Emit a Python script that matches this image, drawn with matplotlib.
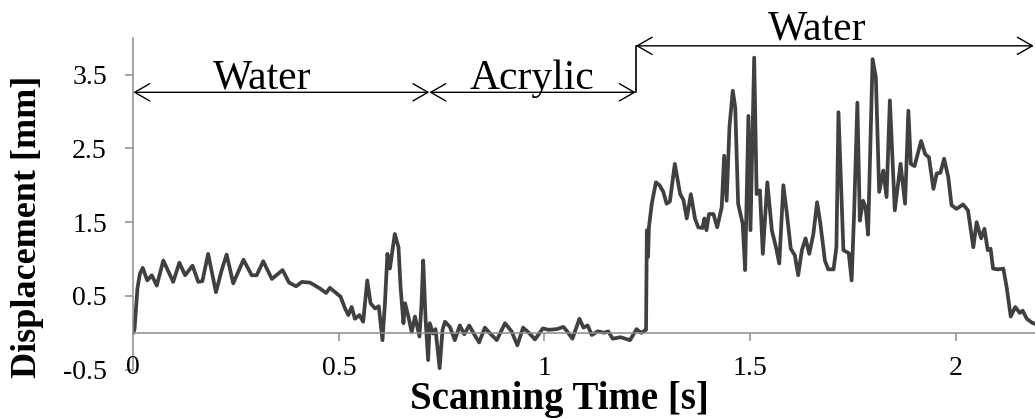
import matplotlib
matplotlib.use("Agg")
import matplotlib.pyplot as plt
import numpy as np

plt.rcParams['font.family'] = ['Liberation Serif', 'DejaVu Serif']

# scanning time [s] and displacement [mm]
time_s = [
    0.000, 0.003, 0.010, 0.016, 0.023, 0.034, 0.045, 0.057, 0.073, 0.088,
    0.097, 0.112, 0.126, 0.144, 0.158, 0.168, 0.182, 0.201, 0.215, 0.227,
    0.243, 0.268, 0.288, 0.300, 0.316, 0.337, 0.363, 0.379, 0.396, 0.410,
    0.430, 0.454, 0.469, 0.478, 0.493, 0.504, 0.515, 0.523, 0.531, 0.539,
    0.550, 0.559, 0.569, 0.577, 0.588, 0.597, 0.606, 0.612, 0.618, 0.624,
    0.636, 0.645, 0.650, 0.657, 0.661, 0.669, 0.677, 0.685, 0.696, 0.701,
    0.705, 0.711, 0.717, 0.721, 0.729, 0.735, 0.745, 0.752, 0.758, 0.770,
    0.782, 0.794, 0.805, 0.817, 0.829, 0.841, 0.855, 0.868, 0.884, 0.904,
    0.920, 0.934, 0.948, 0.962, 0.977, 0.996, 1.010, 1.030, 1.046, 1.055,
    1.068, 1.085, 1.095, 1.105, 1.115, 1.130, 1.145, 1.155, 1.166, 1.185,
    1.208, 1.224, 1.235, 1.247, 1.249, 1.252, 1.254, 1.261, 1.271, 1.280,
    1.289, 1.297, 1.305, 1.317, 1.330, 1.338, 1.346, 1.356, 1.366, 1.374,
    1.384, 1.389, 1.394, 1.400, 1.411, 1.420, 1.431, 1.437, 1.443, 1.450,
    1.458, 1.464, 1.471, 1.482, 1.488, 1.496, 1.501, 1.510, 1.516, 1.524,
    1.531, 1.542, 1.553, 1.563, 1.571, 1.581, 1.589, 1.599, 1.609, 1.617,
    1.626, 1.635, 1.644, 1.654, 1.663, 1.671, 1.682, 1.690, 1.703, 1.710,
    1.715, 1.727, 1.740, 1.747, 1.753, 1.761, 1.767, 1.775, 1.781, 1.787,
    1.798, 1.806, 1.814, 1.824, 1.832, 1.840, 1.852, 1.866, 1.877, 1.885,
    1.891, 1.900, 1.916, 1.926, 1.935, 1.946, 1.954, 1.963, 1.972, 1.982,
    1.990, 2.002, 2.018, 2.030, 2.043, 2.051, 2.062, 2.070, 2.078, 2.085,
    2.091, 2.103, 2.116, 2.124, 2.134, 2.145, 2.156, 2.163, 2.173, 2.185,
    2.193,
]
displacement_mm = [
    0.00, 0.05, 0.60, 0.80, 0.88, 0.71, 0.78, 0.64, 0.98, 0.80,
    0.69, 0.95, 0.78, 0.91, 0.69, 0.70, 1.07, 0.55, 0.85, 1.06,
    0.67, 0.99, 0.78, 0.78, 0.97, 0.73, 0.85, 0.68, 0.63, 0.69,
    0.68, 0.60, 0.54, 0.61, 0.54, 0.49, 0.33, 0.24, 0.35, 0.19,
    0.24, 0.15, 0.71, 0.40, 0.33, 0.36, -0.10, 0.40, 1.07, 0.87,
    1.34, 1.16, 0.62, 0.13, 0.40, 0.22, 0.01, 0.22, -0.05, 0.40,
    0.98, 0.17, -0.37, 0.13, -0.01, 0.05, -0.48, 0.04, 0.15, 0.08,
    -0.10, 0.10, -0.02, 0.10, -0.02, -0.13, 0.07, -0.01, -0.10, 0.13,
    0.02, -0.17, 0.07, 0.00, -0.09, 0.06, 0.04, 0.05, 0.08, 0.02,
    -0.08, 0.19, 0.07, 0.10, -0.03, 0.02, 0.00, 0.02, -0.08, -0.06,
    -0.10, 0.05, 0.00, 0.04, 1.39, 1.03, 1.43, 1.75, 2.04, 2.00,
    1.91, 1.75, 1.78, 2.29, 1.88, 1.80, 1.55, 1.88, 1.55, 1.43,
    1.42, 1.55, 1.39, 1.61, 1.61, 1.43, 1.70, 2.40, 1.79, 2.80,
    3.28, 3.05, 1.75, 1.48, 0.85, 2.94, 1.39, 3.73, 1.88, 1.93,
    1.07, 2.04, 1.39, 1.16, 0.94, 2.00, 1.64, 1.14, 1.05, 0.78,
    1.12, 1.28, 1.07, 1.34, 1.77, 1.48, 0.98, 0.86, 0.86, 1.16,
    2.99, 1.12, 1.08, 0.71, 1.61, 3.12, 1.52, 1.79, 1.70, 1.33,
    3.71, 3.46, 1.91, 2.20, 1.84, 3.15, 1.66, 2.29, 1.75, 3.01,
    2.29, 2.26, 2.60, 2.42, 2.38, 1.95, 2.16, 2.17, 2.36, 2.11,
    1.73, 1.68, 1.74, 1.66, 1.16, 1.50, 1.28, 1.41, 1.12, 1.14,
    0.87, 0.86, 0.87, 0.62, 0.22, 0.35, 0.27, 0.30, 0.19, 0.14,
    0.12,
]

x_ticks = [0, 0.5, 1, 1.5, 2]
x_tick_labels = ['0', '0.5', '1', '1.5', '2']
y_ticks = [-0.5, 0.5, 1.5, 2.5, 3.5]
y_tick_labels = ['-0.5', '0.5', '1.5', '2.5', '3.5']

# region markers: (label, start, end, arrow height, text x, text y)
regions = [
    ('Water', 0.0, 0.72, 3.26, 0.314, 3.31),
    ('Acrylic', 0.72, 1.222, 3.26, 0.969, 3.31),
    ('Water', 1.222, 2.19, 3.89, 1.664, 3.98),
]

fig = plt.figure(figsize=(10.35, 4.19), dpi=100)
ax = fig.add_axes([0.1288, 0.1177, 0.8712, 0.7923])

ax.plot(time_s, displacement_mm, color='#404040', lw=2.7,
        solid_joinstyle='round', solid_capstyle='round')

ax.set_xlim(0, 2.193)
ax.set_ylim(-0.5, 4.0)

ax.spines['top'].set_visible(False)
ax.spines['right'].set_visible(False)
ax.spines['bottom'].set_position(('data', 0))
for s in ('left', 'bottom'):
    ax.spines[s].set_color('#8c8c8c')
    ax.spines[s].set_linewidth(1.1)

ax.set_xticks(x_ticks[1:])
ax.set_xticklabels(x_tick_labels[1:])
ax.set_yticks(y_ticks)
ax.set_yticklabels(y_tick_labels)
ax.tick_params(axis='x', direction='out', length=6, width=1.1, color='#8c8c8c',
               labelsize=20, pad=11)
ax.tick_params(axis='y', direction='out', length=6, width=1.1, color='#8c8c8c',
               labelsize=20, pad=13)
# the "0" label sits at the origin corner
ax.text(0, -0.47, x_tick_labels[0], fontsize=20, ha='center', va='center')

ax.set_xlabel('Scanning Time [s]', fontsize=28, fontweight='bold')
ax.xaxis.set_label_coords(0.473, -0.091)
ax.xaxis.label.set_va('center')
ax.set_ylabel('Displacement [mm]', fontsize=26, fontweight='bold')
ax.yaxis.set_label_coords(-0.117, 0.431)
ax.yaxis.label.set_va('center')

arrow = dict(arrowstyle='<->,head_length=1.08,head_width=0.62', color='black',
             lw=1.0, shrinkA=0, shrinkB=0, mutation_scale=10)
for label, x0, x1, ya, tx, ty in regions:
    ax.annotate('', xy=(x1, ya), xytext=(x0, ya), arrowprops=arrow,
                annotation_clip=False)
    ax.text(tx, ty, label, fontsize=30, ha='center', va='baseline')
ax.plot([1.222, 1.222], [3.26, 3.89], color='black', lw=1.2, clip_on=False)

fig.savefig('out.png', dpi=100)
